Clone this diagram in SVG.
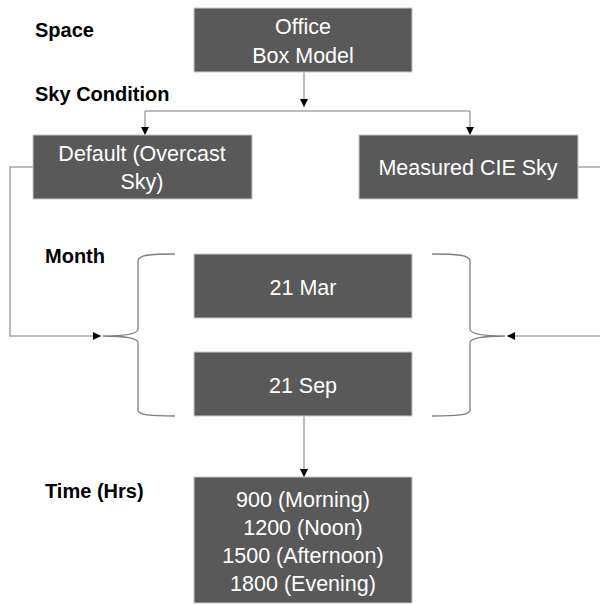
<svg xmlns="http://www.w3.org/2000/svg" width="600" height="605" viewBox="0 0 600 605">
<style>
.box{fill:#595959;stroke:#c8c8c8;stroke-width:1}
.bt{font-family:"Liberation Sans",Arial,sans-serif;font-size:21.5px;fill:#ffffff;text-anchor:middle}
.lbl{font-family:"Liberation Sans",Arial,sans-serif;font-size:20px;font-weight:bold;fill:#000000}
.ln{fill:none;stroke:#a6a6a6;stroke-width:1.5}
.br{fill:none;stroke:#7f7f7f;stroke-width:1.3}
</style>
<defs>
<marker id="ah" viewBox="0 0 10 10" refX="10" refY="5" markerWidth="8" markerHeight="8" markerUnits="userSpaceOnUse" orient="auto">
<path d="M0,0 L10,5 L0,10 Z" fill="#000000"/>
</marker>
</defs>
<rect width="600" height="605" fill="#ffffff"/>
<g id="labels">
<text class="lbl" x="35" y="37">Space</text>
<text class="lbl" x="35" y="101">Sky Condition</text>
<text class="lbl" x="45" y="263">Month</text>
<text class="lbl" x="45" y="498">Time (Hrs)</text>
</g>
<g id="connectors">
<path class="ln" d="M304,72 V107" marker-end="url(#ah)"/>
<path class="ln" d="M145,111 H470"/>
<path class="ln" d="M145,111 V135" marker-end="url(#ah)"/>
<path class="ln" d="M470,111 V135" marker-end="url(#ah)"/>
<path class="ln" d="M33,167 H10 V336 H101" marker-end="url(#ah)"/>
<path class="ln" d="M578,167 H603 V336 H507" marker-end="url(#ah)"/>
<path class="ln" d="M304,416 V477" marker-end="url(#ah)"/>
<path class="br" d="M175,254 C150,254 138,255 138,261 V329 C138,334 125,336 103,336 C125,336 138,338 138,343 V410 C138,415 150,416 175,416"/>
<path class="br" d="M432,254 C457,254 470,255 470,261 V329 C470,334 483,336 505,336 C483,336 470,338 470,343 V410 C470,415 457,416 432,416"/>
</g>
<g id="office">
<rect class="box" x="194" y="8" width="218" height="64"/>
<text class="bt" x="303" y="34">Office</text>
<text class="bt" x="303" y="63">Box Model</text>
</g>
<g id="default">
<rect class="box" x="33" y="135" width="219" height="64"/>
<text class="bt" x="142" y="161">Default (Overcast</text>
<text class="bt" x="142" y="189">Sky)</text>
</g>
<g id="measured">
<rect class="box" x="359" y="135" width="219" height="64"/>
<text class="bt" x="468" y="175">Measured CIE Sky</text>
</g>
<g id="mar">
<rect class="box" x="194" y="254" width="218" height="64"/>
<text class="bt" x="303" y="295">21 Mar</text>
</g>
<g id="sep">
<rect class="box" x="194" y="352" width="218" height="64"/>
<text class="bt" x="303" y="393">21 Sep</text>
</g>
<g id="time">
<rect class="box" x="194" y="477" width="218" height="126"/>
<text class="bt" x="303" y="507">900 (Morning)</text>
<text class="bt" x="303" y="535">1200 (Noon)</text>
<text class="bt" x="303" y="563">1500 (Afternoon)</text>
<text class="bt" x="303" y="591">1800 (Evening)</text>
</g>
</svg>
